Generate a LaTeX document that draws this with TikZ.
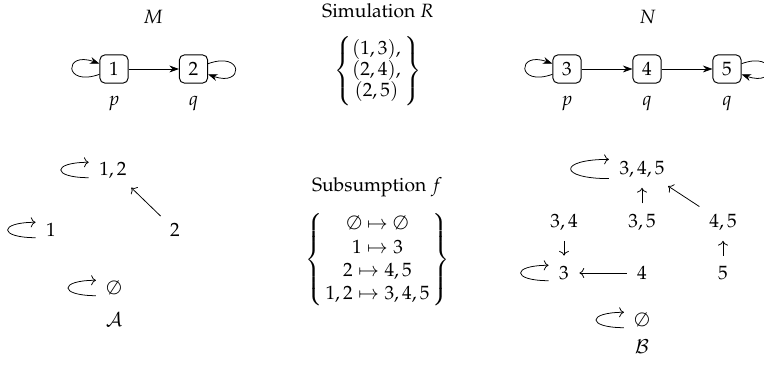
\documentclass[tikz,border=0pt]{standalone}
\usepackage[T1]{fontenc}
\usepackage{mathpazo}
\usepackage{amsmath,amssymb}
\usepackage{tikz}
\usetikzlibrary{arrows.meta,positioning}

\begin{document}
\begin{tikzpicture}[x=0.52pt,y=0.52pt,
        state/.style={draw,line width=0.5pt,rounded corners=2.5pt,minimum size=14.6pt,inner sep=0pt},
        trans/.style={-{Stealth[length=5pt,width=3.6pt]}},
        cmto/.style={-{Computer Modern Rightarrow},shorten <=2pt,shorten >=2pt}]
        \useasboundingbox (0,0) rectangle (764,-370);
        % systems M and N
        \node[anchor=base] (tM) at (153,-24) {$M$};
        \node[anchor=base] (tN) at (647.5,-24) {$N$};
        \node[state] (m1) at (114,-69) {$1$};
        \node[state] (m2) at (193.5,-69) {$2$};
        \node[state] (n3) at (567,-69) {$3$};
        \node[state] (n4) at (647,-69) {$4$};
        \node[state] (n5) at (727,-69) {$5$};
        \foreach \s/\l in {m1/p,m2/q,n3/p,n4/q,n5/q}
          \node[below=2.9pt of \s] (\s\l) {$\l$};
        \draw[trans] (m1) -- (m2);
        \draw[trans] (n3) -- (n4);
        \draw[trans] (n4) -- (n5);
        \draw[trans] (m1.200) to[out=200,in=160,min distance=7mm] (m1.160);
        \draw[trans] (n3.200) to[out=200,in=160,min distance=7mm] (n3.160);
        \draw[trans] (m2.20) to[out=20,in=-20,min distance=7mm] (m2.-20);
        \draw[trans] (n5.20) to[out=20,in=-20,min distance=7mm] (n5.-20);
        % simulation and subsumption
        \node[anchor=base] (tR) at (378,-18) {Simulation $R$};
        \node (setR) at (378,-71) {$\def\arraystretch{0.87}\left\{\rule[-15pt]{0pt}{35pt}\begin{array}{@{}c@{\,}}(1,3),\\(2,4),\\(2,5)\end{array}\right\}$};
        \node[anchor=base] (tF) at (377,-192) {Subsumption $f$};
        \node (setF) at (377.5,-260) {$\left\{\begin{array}{@{\,}c@{\,}}\emptyset\mapsto\emptyset\\1\mapsto 3\\2\mapsto 4,5\\1,2\mapsto 3,4,5\end{array}\right\}$};
        % lattice A
        \node (a12) at (113,-170) {$1,2$};
        \node (a1) at (51,-230) {$1$};
        \node (a2) at (175,-230) {$2$};
        \node (a0) at (114,-288) {$\emptyset$};
        \node (lA) at (114,-320) {$\mathcal{A}$};
        \draw[cmto] (a2) -- (a12);
        % lattice B
        \node (b345) at (642,-169) {$3,4,5$};
        \node (b34) at (564,-222) {$3,4$};
        \node (b35) at (642,-222) {$3,5$};
        \node (b45) at (723,-222) {$4,5$};
        \node (b3) at (564,-273) {$3$};
        \node (b4) at (642,-273) {$4$};
        \node (b5) at (723,-273) {$5$};
        \node (b0) at (642,-320) {$\emptyset$};
        \node (lB) at (642,-347) {$\mathcal{B}$};
        \draw[cmto] (b35) -- (b345);
        \draw[cmto] (b45) -- (b345);
        \draw[cmto] (b34) -- (b3);
        \draw[cmto] (b4) -- (b3);
        \draw[cmto] (b5) -- (b45);
        \foreach \s/\d/\h in {a12/7.5mm/4pt,a1/7.5mm/4pt,a0/7.5mm/4pt,b3/7.5mm/4pt,b0/7.5mm/4pt,b345/10mm/5pt}
          \draw[cmto] ([yshift=-\h]\s.west) to[out=180,in=180,min distance=\d] ([yshift=\h]\s.west);
\end{tikzpicture}
\end{document}
